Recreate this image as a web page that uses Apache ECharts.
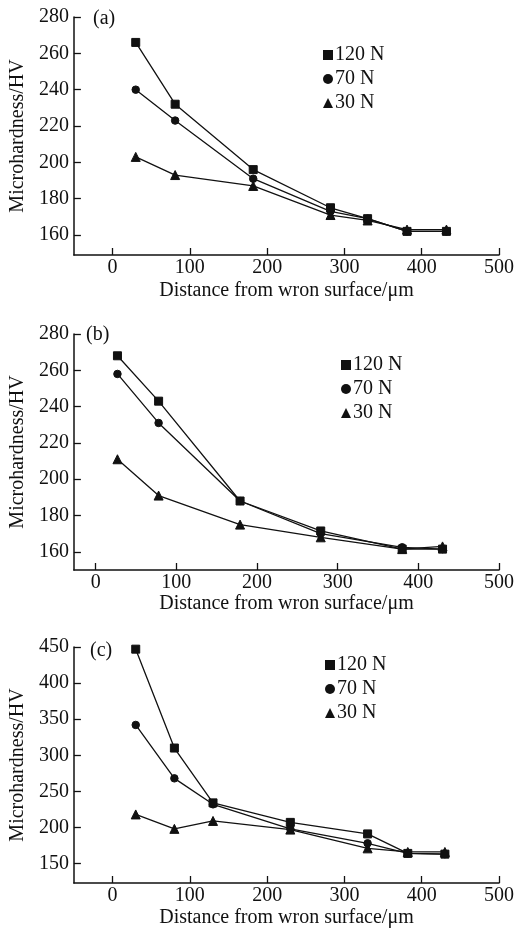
<!DOCTYPE html>
<html>
<head>
<meta charset="utf-8">
<script src="https://cdn.jsdelivr.net/npm/echarts@6/dist/echarts.min.js"></script>
<style>
html,body{margin:0;padding:0;background:#fff;}
#chart{width:523px;height:929px;}
</style>
</head>
<body>
<div id="chart"></div>
<script>
// ---- data ----
const seriesNames = ['120 N', '70 N', '30 N'];
const panelLabels = ['(a)', '(b)', '(c)'];
const xTicks = [0, 100, 200, 300, 400, 500];
const yTicksAB = [160, 180, 200, 220, 240, 260, 280];
const yTicksC = [150, 200, 250, 300, 350, 400, 450];

const xA = [30, 81, 182, 282, 330, 381, 432];
const a120 = [266, 232, 196, 175, 169, 162, 162];
const a70 = [240, 223, 191, 173, 169, 162, 162];
const a30 = [203, 193, 187, 171, 168, 163, 163];

const xB = [27, 78, 179, 279, 380, 430];
const b120 = [268, 243, 188, 171.5, 161.5, 161.5];
const b70 = [258, 231, 188, 170, 162.5, 161.5];
const b30 = [211, 191, 175, 168, 161.5, 163];

const xC = [30, 80, 130, 230, 330, 382, 430];
const c120 = [447, 310, 234, 207, 191, 164, 163];
const c70 = [342, 268, 232, 198, 178, 164, 163];
const c30 = [218, 198, 209, 197, 171, 166, 166];

// ---- chart ----
const FONT = '"Liberation Serif", "Times New Roman", serif';
const BLACK = '#111';
const FS = 20;
const symbols = ['rect', 'circle', 'triangle'];
const symSizes = [8, 7.5, 9];

function pairs(xs, ys) { return xs.map((x, i) => [x, ys[i]]); }

const panels = [
  { top: 17, height: 238, xmin: -50, ymin: 149, ymax: 280, yTicks: yTicksAB, xs: xA, data: [a120, a70, a30], legendLeft: 318, legendTop: 40, labelX: 93, labelY: 20, xGap: 26 },
  { top: 334, height: 236, xmin: -27, ymin: 150, ymax: 280, yTicks: yTicksAB, xs: xB, data: [b120, b70, b30], legendLeft: 336, legendTop: 350, labelX: 86, labelY: 336, xGap: 22 },
  { top: 647, height: 237, xmin: -50, ymin: 123, ymax: 450, yTicks: yTicksC, xs: xC, data: [c120, c70, c30], legendLeft: 320, legendTop: 650, labelX: 90, labelY: 652, xGap: 25 }
];

const grid = [], xAxis = [], yAxis = [], series = [], legend = [], graphic = [];
panels.forEach((p, k) => {
  grid.push({ left: 73, top: p.top, width: 426, height: p.height });
  xAxis.push({
    type: 'value', gridIndex: k, min: p.xmin, max: 500,
    name: 'Distance from wron surface/\u03bcm', nameLocation: 'middle', nameGap: p.xGap,
    nameTextStyle: { fontFamily: FONT, fontSize: FS, color: BLACK },
    axisLine: { show: true, onZero: false, lineStyle: { color: BLACK, width: 1.5 } },
    axisTick: { show: true, inside: true, length: 7, lineStyle: { color: BLACK, width: 1.3 }, customValues: xTicks },
    axisLabel: { fontFamily: FONT, fontSize: FS, color: BLACK, margin: 3, customValues: xTicks },
    splitLine: { show: false }
  });
  yAxis.push({
    type: 'value', gridIndex: k, min: p.ymin, max: p.ymax,
    name: 'Microhardness/HV', nameLocation: 'middle', nameGap: 41,
    nameTextStyle: { fontFamily: FONT, fontSize: FS, color: BLACK },
    axisLine: { show: true, onZero: false, lineStyle: { color: BLACK, width: 1.5 } },
    axisTick: { show: true, inside: true, length: 7, lineStyle: { color: BLACK, width: 1.3 }, customValues: p.yTicks },
    axisLabel: { fontFamily: FONT, fontSize: FS, color: BLACK, margin: 5, customValues: p.yTicks },
    splitLine: { show: false }
  });
  seriesNames.forEach((n, i) => {
    series.push({
      type: 'line', name: n, xAxisIndex: k, yAxisIndex: k,
      data: pairs(p.xs, p.data[i]),
      symbol: symbols[i], symbolSize: symSizes[i], showAllSymbol: true,
      lineStyle: { color: BLACK, width: 1.3 },
      itemStyle: { color: BLACK, borderColor: BLACK },
      emphasis: { disabled: true }, animation: false, z: 3 - i
    });
  });
  legend.push({
    left: p.legendLeft, top: p.legendTop, orient: 'vertical', itemGap: 4,
    itemWidth: 10, itemHeight: 10, selectedMode: false,
    textStyle: { fontFamily: FONT, fontSize: FS, color: BLACK, padding: [0, 0, 0, -3] },
    data: seriesNames.map((n, i) => ({ name: n, icon: symbols[i] }))
  });
  graphic.push({
    type: 'text', left: p.labelX, top: p.labelY - 11,
    style: { text: panelLabels[k], fontFamily: FONT, fontSize: FS, fill: BLACK }
  });
});

const chart = echarts.init(document.getElementById('chart'), null, { renderer: 'canvas' });
chart.setOption({
  backgroundColor: '#fff', animation: false,
  grid, xAxis, yAxis, series, legend, graphic
});
</script>
</body>
</html>
